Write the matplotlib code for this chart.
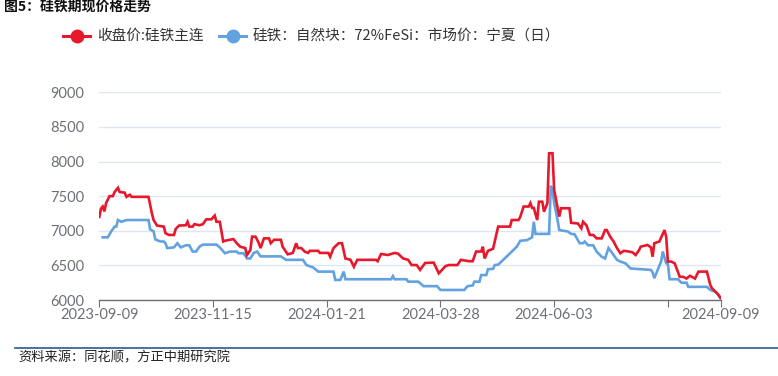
import matplotlib
matplotlib.use("Agg", force=True)
import matplotlib.pyplot as plt
import pandas as pd

plt.rcParams['font.family'] = ['Noto Sans CJK SC', 'DejaVu Sans']

# 收盘价:硅铁主连
red_dates = [
    "2023-09-09", "2023-09-10", "2023-09-11", "2023-09-12", "2023-09-13", "2023-09-15",
    "2023-09-17", "2023-09-18", "2023-09-20", "2023-09-21", "2023-09-24", "2023-09-25",
    "2023-09-27", "2023-09-28", "2023-10-08", "2023-10-10", "2023-10-11", "2023-10-13",
    "2023-10-17", "2023-10-18", "2023-10-20", "2023-10-23", "2023-10-24", "2023-10-26",
    "2023-10-30", "2023-10-31", "2023-11-01", "2023-11-03", "2023-11-04", "2023-11-07",
    "2023-11-09", "2023-11-11", "2023-11-14", "2023-11-16", "2023-11-17", "2023-11-19",
    "2023-11-21", "2023-11-22", "2023-11-25", "2023-11-27", "2023-11-29", "2023-12-01",
    "2023-12-04", "2023-12-05", "2023-12-07", "2023-12-08", "2023-12-10", "2023-12-11",
    "2023-12-12", "2023-12-13", "2023-12-15", "2023-12-18", "2023-12-19", "2023-12-21",
    "2023-12-25", "2023-12-26", "2023-12-29", "2024-01-01", "2024-01-03", "2024-01-04",
    "2024-01-06", "2024-01-08", "2024-01-10", "2024-01-11", "2024-01-16", "2024-01-17",
    "2024-01-22", "2024-01-23", "2024-01-25", "2024-01-28", "2024-01-30", "2024-02-01",
    "2024-02-04", "2024-02-06", "2024-02-08", "2024-02-19", "2024-02-20", "2024-02-22",
    "2024-02-26", "2024-03-01", "2024-03-03", "2024-03-06", "2024-03-09", "2024-03-11",
    "2024-03-14", "2024-03-16", "2024-03-19", "2024-03-24", "2024-03-25", "2024-03-27",
    "2024-03-28", "2024-03-31", "2024-04-02", "2024-04-07", "2024-04-09", "2024-04-14",
    "2024-04-16", "2024-04-18", "2024-04-21", "2024-04-22", "2024-04-23", "2024-04-25",
    "2024-04-28", "2024-05-01", "2024-05-08", "2024-05-09", "2024-05-13", "2024-05-14",
    "2024-05-16", "2024-05-19", "2024-05-20", "2024-05-21", "2024-05-22", "2024-05-24",
    "2024-05-25", "2024-05-27", "2024-05-28", "2024-05-30", "2024-05-31", "2024-06-02",
    "2024-06-03", "2024-06-05", "2024-06-06", "2024-06-07", "2024-06-12", "2024-06-13",
    "2024-06-17", "2024-06-19", "2024-06-20", "2024-06-22", "2024-06-24", "2024-06-26",
    "2024-06-28", "2024-07-01", "2024-07-03", "2024-07-04", "2024-07-06", "2024-07-08",
    "2024-07-10", "2024-07-12", "2024-07-14", "2024-07-17", "2024-07-19", "2024-07-21",
    "2024-07-23", "2024-07-24", "2024-07-28", "2024-07-30", "2024-07-31", "2024-08-01",
    "2024-08-04", "2024-08-07", "2024-08-08", "2024-08-09", "2024-08-11", "2024-08-13",
    "2024-08-16", "2024-08-18", "2024-08-20", "2024-08-22", "2024-08-25", "2024-08-27",
    "2024-09-01", "2024-09-03", "2024-09-04", "2024-09-06", "2024-09-07", "2024-09-08",
    "2024-09-09",
]
red_values = [
    7200, 7320, 7350, 7280, 7400, 7500,
    7500, 7560, 7620, 7560, 7550, 7490,
    7520, 7490, 7490, 7250, 7155, 7075,
    7060, 6965, 6940, 6940, 7025, 7075,
    7080, 7130, 7060, 7060, 7095, 7080,
    7095, 7165, 7165, 7220, 7130, 7130,
    6845, 6855, 6870, 6880, 6820, 6770,
    6750, 6650, 6720, 6915, 6915, 6870,
    6820, 6750, 6890, 6890, 6820, 6870,
    6870, 6770, 6660, 6680, 6820, 6750,
    6750, 6700, 6680, 6710, 6710, 6680,
    6680, 6625, 6750, 6820, 6820, 6600,
    6580, 6480, 6580, 6580, 6560, 6665,
    6650, 6680, 6670, 6600, 6580, 6505,
    6505, 6435, 6535, 6540, 6490, 6385,
    6410, 6490, 6505, 6505, 6580, 6560,
    6560, 6700, 6700, 6770, 6600, 6710,
    6740, 7060, 7060, 7155, 7155, 7200,
    7350, 7350, 7400, 7330, 7330, 7155,
    7420, 7420, 7275, 7400, 8120, 8120,
    7590, 7330, 7205, 7325, 7325, 7115,
    7105, 7035, 7130, 7080, 6940, 6940,
    6890, 6890, 7010, 7010, 6915, 6845,
    6750, 6675, 6710, 6700, 6690, 6650,
    6720, 6770, 6795, 6760, 6625, 6820,
    6845, 7010, 6915, 6555, 6555, 6530,
    6335, 6335, 6310, 6350, 6310, 6410,
    6410, 6215, 6170, 6120, 6095, 6070,
    6030,
]

# 硅铁：自然块：72%FeSi：市场价：宁夏（日）
blue_dates = [
    "2023-09-11", "2023-09-14", "2023-09-16", "2023-09-18", "2023-09-19", "2023-09-20",
    "2023-09-22", "2023-09-25", "2023-10-08", "2023-10-09", "2023-10-11", "2023-10-12",
    "2023-10-15", "2023-10-17", "2023-10-18", "2023-10-19", "2023-10-23", "2023-10-25",
    "2023-10-27", "2023-10-30", "2023-11-01", "2023-11-03", "2023-11-05", "2023-11-07",
    "2023-11-09", "2023-11-17", "2023-11-19", "2023-11-22", "2023-11-25", "2023-11-29",
    "2023-11-30", "2023-12-03", "2023-12-05", "2023-12-07", "2023-12-09", "2023-12-11",
    "2023-12-13", "2023-12-25", "2023-12-28", "2024-01-07", "2024-01-09", "2024-01-13",
    "2024-01-16", "2024-01-25", "2024-01-26", "2024-01-29", "2024-01-31", "2024-02-01",
    "2024-02-28", "2024-02-29", "2024-03-01", "2024-03-08", "2024-03-09", "2024-03-15",
    "2024-03-18", "2024-03-26", "2024-03-28", "2024-04-11", "2024-04-13", "2024-04-16",
    "2024-04-17", "2024-04-20", "2024-04-21", "2024-04-24", "2024-04-25", "2024-04-28",
    "2024-04-29", "2024-05-01", "2024-05-04", "2024-05-08", "2024-05-12", "2024-05-14",
    "2024-05-18", "2024-05-21", "2024-05-22", "2024-05-23", "2024-05-31", "2024-06-01",
    "2024-06-02", "2024-06-03", "2024-06-05", "2024-06-06", "2024-06-11", "2024-06-13",
    "2024-06-15", "2024-06-18", "2024-06-20", "2024-06-21", "2024-06-23", "2024-06-26",
    "2024-06-28", "2024-07-01", "2024-07-03", "2024-07-05", "2024-07-07", "2024-07-10",
    "2024-07-12", "2024-07-15", "2024-07-18", "2024-07-30", "2024-07-31", "2024-08-01",
    "2024-08-03", "2024-08-05", "2024-08-06", "2024-08-08", "2024-08-09", "2024-08-10",
    "2024-08-15", "2024-08-17", "2024-08-20", "2024-08-21", "2024-09-01", "2024-09-03",
    "2024-09-06", "2024-09-07", "2024-09-09",
]
blue_values = [
    6905, 6905, 6990, 7060, 7060, 7155,
    7130, 7155, 7155, 7020, 6990, 6875,
    6845, 6845, 6820, 6750, 6760, 6820,
    6760, 6790, 6790, 6700, 6700, 6770,
    6800, 6800, 6760, 6675, 6700, 6700,
    6675, 6675, 6600, 6600, 6680, 6700,
    6630, 6630, 6580, 6580, 6505, 6470,
    6410, 6410, 6290, 6290, 6410, 6300,
    6300, 6345, 6300, 6300, 6265, 6265,
    6200, 6200, 6145, 6145, 6200, 6210,
    6265, 6265, 6360, 6360, 6445, 6450,
    6505, 6510, 6580, 6675, 6770, 6855,
    6865, 6905, 7130, 6955, 6955, 7650,
    7590, 7400, 7155, 7010, 6990, 6955,
    6950, 6820, 6820, 6845, 6790, 6790,
    6700, 6625, 6600, 6750, 6685, 6580,
    6555, 6530, 6455, 6435, 6400, 6315,
    6435, 6555, 6700, 6530, 6520, 6300,
    6300, 6250, 6250, 6190, 6190, 6145,
    6120, 6095, 6025,
]

tick_dates = ["2023-09-09", "2023-11-15", "2024-01-21", "2024-03-28",
              "2024-06-03", "2024-08-09", "2024-09-09"]
tick_labels = ["2023-09-09", "2023-11-15", "2024-01-21", "2024-03-28",
               "2024-06-03", "", "2024-09-09"]
y_ticks = [6000, 6500, 7000, 7500, 8000, 8500, 9000]

red_name = "收盘价:硅铁主连"
blue_name = "硅铁：自然块：72%FeSi：市场价：宁夏（日）"

RED = '#e8182c'
BLUE = '#62a2e0'
AXIS_GRAY = '#6e7079'

fig = plt.figure(figsize=(7.78, 3.76), dpi=100)
ax = fig.add_axes([99.3 / 778, 1 - 300 / 376, (720.5 - 99.3) / 778, (300 - 92.3) / 376])

ax.plot(pd.to_datetime(red_dates), red_values, color=RED, lw=1.9, zorder=3,
        solid_joinstyle='miter')
ax.plot(pd.to_datetime(blue_dates), blue_values, color=BLUE, lw=1.9, zorder=2,
        solid_joinstyle='miter')

ax.set_xlim(pd.Timestamp(tick_dates[0]), pd.Timestamp(tick_dates[-1]))
ax.set_ylim(y_ticks[0], y_ticks[-1])
ax.set_yticks(y_ticks)
ax.set_xticks(pd.to_datetime(tick_dates))
ax.set_xticklabels(tick_labels)

ax.grid(axis='y', color='#e0e6f1', lw=1.0)
ax.set_axisbelow(True)
for side in ['top', 'right', 'left']:
    ax.spines[side].set_visible(False)
ax.spines['bottom'].set_color(AXIS_GRAY)
ax.spines['bottom'].set_linewidth(1.0)
ax.tick_params(axis='x', length=5, color=AXIS_GRAY, labelsize=10.5,
               labelcolor=AXIS_GRAY, pad=1)
ax.tick_params(axis='y', length=0, labelsize=10.5, labelcolor=AXIS_GRAY, pad=11)
for lbl in ax.get_yticklabels() + ax.get_xticklabels():
    lbl.set_fontfamily(['Lato', 'DejaVu Sans'])

# title at the very top
fig.text(4 / 778, 1 - 7 / 376, "图5：硅铁期现价格走势", fontsize=10, fontweight='bold',
         color='#111111', va='center', ha='left')

# legend drawn by hand to match the layout
leg_y = 1 - 36 / 376
for x0, color, label in [(63, RED, red_name), (219, BLUE, blue_name)]:
    fig.add_artist(plt.Line2D([x0 / 778, (x0 + 27) / 778], [leg_y, leg_y],
                              color=color, lw=2.2, transform=fig.transFigure))
    fig.add_artist(plt.Line2D([(x0 + 13.5) / 778], [leg_y], color=color, marker='o',
                              markersize=9, transform=fig.transFigure))
    fig.text((x0 + 34) / 778, leg_y, label, fontsize=10.5, color='#333333',
             va='center', ha='left')

# source line
fig.add_artist(plt.Line2D([15 / 778, 1], [1 - 348 / 376, 1 - 348 / 376],
                          color='#2a5a8c', lw=1.2, transform=fig.transFigure))
fig.text(18 / 778, 1 - 358 / 376, "资料来源：同花顺，方正中期研究院", fontsize=9.5,
         color='#222222', va='center', ha='left', style='italic')

fig.savefig("out.png", dpi=100)
